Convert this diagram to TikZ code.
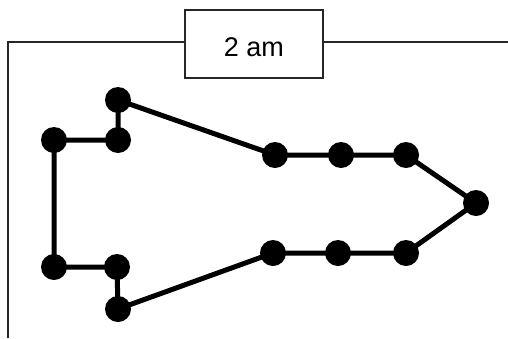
\documentclass[tikz,border=0pt]{standalone}
\usepackage{fontspec}
\setmainfont{Liberation Sans}
\begin{document}
\begin{tikzpicture}[x=1pt,y=-1pt,
  dot/.style={circle,fill=black,inner sep=0pt,minimum size=26pt},
  edge/.style={line width=5pt,black},
  frame/.style={line width=1.3pt,black!85}]
\useasboundingbox (0,0) rectangle (508,338);
\coordinate (fl) at (8,338);
\coordinate (ft) at (8,42);
\coordinate (fr) at (508,42);
\node[frame,draw,fill=white,minimum width=138pt,minimum height=68pt] (title) at (254,44) {};
\node[font=\fontsize{27}{32}\selectfont,inner sep=0pt] (label) at (254,47) {2 am};
\draw[frame] (fl) -- (ft) -- (title.west |- ft);
\draw[frame] (title.east |- fr) -- (fr);
\node[dot] (a) at (118,100) {};
\node[dot] (b) at (118,140) {};
\node[dot] (c) at (54,140) {};
\node[dot] (d) at (54,267) {};
\node[dot] (e) at (117,267) {};
\node[dot] (f) at (118,309) {};
\node[dot] (g) at (275,155) {};
\node[dot] (h) at (341,155) {};
\node[dot] (i) at (406,155) {};
\node[dot] (j) at (476,203) {};
\node[dot] (k) at (406,253) {};
\node[dot] (l) at (338,253) {};
\node[dot] (m) at (273,253) {};
\draw[edge] (a.center) -- (b.center) -- (c.center) -- (d.center) -- (e.center) -- (f.center) -- (m.center) -- (l.center) -- (k.center) -- (j.center) -- (i.center) -- (h.center) -- (g.center) -- (a.center);
\end{tikzpicture}
\end{document}
